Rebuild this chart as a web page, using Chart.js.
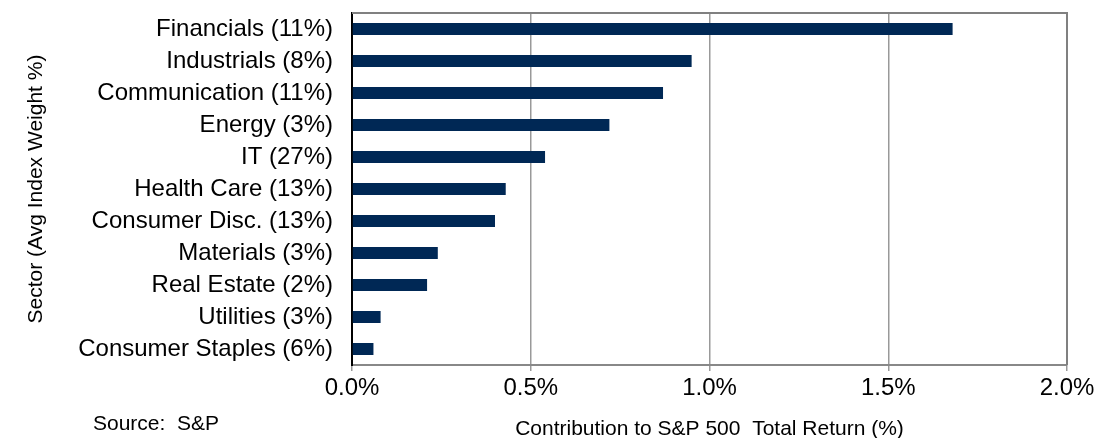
<!DOCTYPE html>
<html>
<head>
<meta charset="utf-8">
<script src="https://cdn.jsdelivr.net/npm/chart.js@4"></script>
<style>
  body { margin: 0; background: #fff; }
  canvas { display: block; }
</style>
</head>
<body>
<canvas id="chart" width="1094" height="438"></canvas>
<script>
const sectors = [
    'Financials (11%)', 'Industrials (8%)', 'Communication (11%)', 'Energy (3%)',
    'IT (27%)', 'Health Care (13%)', 'Consumer Disc. (13%)', 'Materials (3%)',
    'Real Estate (2%)', 'Utilities (3%)', 'Consumer Staples (6%)'
];
const contribution = [1.68, 0.95, 0.87, 0.72, 0.54, 0.43, 0.40, 0.24, 0.21, 0.08, 0.06];
const xTitle = 'Contribution to S&P 500  Total Return (%)';
const yTitle = 'Sector (Avg Index Weight %)';
const sourceNote = 'Source:  S&P';

const ctx = document.getElementById('chart').getContext('2d');
const fontFamily = '"Liberation Sans", Arial, sans-serif';

// top + right frame of the plot area
const framePlugin = {
    id: 'frame',
    afterDraw(chart) {
        const a = chart.chartArea;
        const c = chart.ctx;
        c.save();
        c.strokeStyle = '#808080';
        c.lineWidth = 2;
        c.beginPath();
        c.moveTo(a.left, a.top);
        c.lineTo(a.right, a.top);
        c.lineTo(a.right, a.bottom);
        c.stroke();
        c.restore();
    }
};

const sourcePlugin = {
    id: 'source',
    afterDraw(chart) {
        const c = chart.ctx;
        c.save();
        c.font = '21px ' + fontFamily;
        c.fillStyle = '#000';
        c.textBaseline = 'middle';
        c.textAlign = 'left';
        c.fillText(sourceNote, 93, 424);
        c.restore();
    }
};

new Chart(ctx, {
    type: 'bar',
    data: {
        labels: sectors,
        datasets: [{
            data: contribution,
            backgroundColor: '#002855',
            borderWidth: 0,
            barPercentage: 0.375,
            categoryPercentage: 1
        }]
    },
    options: {
        indexAxis: 'y',
        responsive: false,
        animation: false,
        layout: { padding: { top: 13, right: 27, left: 0, bottom: 0 } },
        plugins: {
            legend: { display: false },
            tooltip: { enabled: false }
        },
        scales: {
            x: {
                min: 0,
                max: 2,
                ticks: {
                    stepSize: 0.5,
                    color: '#000',
                    padding: 3,
                    font: { family: fontFamily, size: 24 },
                    callback: (v) => v.toFixed(1) + '%'
                },
                grid: { color: '#999', lineWidth: 1.5, tickLength: 6 },
                border: { color: '#888', width: 2 },
                title: {
                    display: true,
                    text: xTitle,
                    color: '#000',
                    padding: { top: 0, bottom: -2 },
                    font: { family: fontFamily, size: 21, lineHeight: 1 }
                },
                afterFit(scale) {
                    scale.height = 73;
                    scale.paddingLeft = 0;
                    scale.paddingRight = 0;
                }
            },
            y: {
                ticks: {
                    color: '#000',
                    padding: 11,
                    autoSkip: false,
                    font: { family: fontFamily, size: 24 }
                },
                grid: { display: false },
                border: { color: '#000', width: 2 },
                title: {
                    display: true,
                    text: yTitle,
                    color: '#000',
                    padding: { top: 26, bottom: 0 },
                    font: { family: fontFamily, size: 21, lineHeight: 1 }
                },
                afterFit(scale) {
                    scale.width = 352;
                    scale.paddingTop = 0;
                    scale.paddingBottom = 0;
                }
            }
        }
    },
    plugins: [framePlugin, sourcePlugin]
});
</script>
</body>
</html>
